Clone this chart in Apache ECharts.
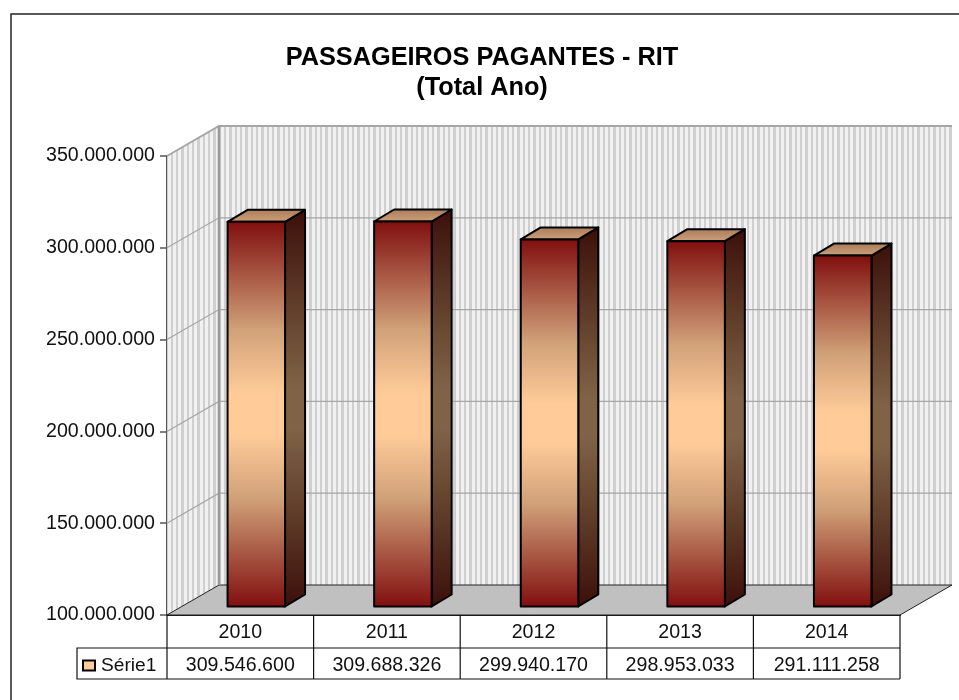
<!DOCTYPE html>
<html>
<head>
<meta charset="utf-8">
<style>
html, body { margin: 0; padding: 0; background: #fff; }
#chart { width: 959px; height: 700px; }
</style>
<script src="https://cdn.jsdelivr.net/npm/echarts@6/dist/echarts.min.js"></script>
</head>
<body>
<div id="chart"></div>
<script>
var categories = ['2010', '2011', '2012', '2013', '2014'];
var serie1 = [309546600, 309688326, 299940170, 298953033, 291111258];
var yTicks = [100000000, 150000000, 200000000, 250000000, 300000000, 350000000];

var fontName = '"Liberation Sans", Arial, sans-serif';
var wallDx = 52, wallDy = -30;   // profundidade das paredes
var barDx = 16, barDy = -8.5;    // deslocamento da barra em relacao ao eixo
var sideDx = 20, sideDy = -12;   // profundidade da barra
var barWidth = 57.5;

function formatDots(value) {
    return String(value).replace(/\B(?=(\d{3})+$)/g, '.');
}

function stripePattern() {
    var c = document.createElement('canvas');
    c.width = 16;
    c.height = 4;
    var ctx = c.getContext('2d');
    ctx.fillStyle = '#f1f1f1';
    ctx.fillRect(0, 0, 16, 4);
    ctx.fillStyle = '#cfcfcf';
    ctx.fillRect(0, 0, 2, 4);
    ctx.fillRect(5, 0, 3, 4);
    ctx.fillRect(11, 0, 2, 4);
    return c;
}
var stripes = { image: stripePattern(), repeat: 'repeat' };

function vGradient(dark, soft, light) {
    return new echarts.graphic.LinearGradient(0, 0, 0, 1, [
        { offset: 0, color: dark },
        { offset: 0.28, color: soft },
        { offset: 0.45, color: light },
        { offset: 0.55, color: light },
        { offset: 0.72, color: soft },
        { offset: 1, color: dark }
    ]);
}

function renderWalls(params, api) {
    var w = api.size([1, 0])[0] * categories.length;
    var lo = yTicks[0], hi = yTicks[yTicks.length - 1];
    var left = api.coord([0, lo])[0] - w / categories.length / 2;
    var yLo = api.coord([0, lo])[1], yHi = api.coord([0, hi])[1];
    var bl = [left, yLo], tl = [left, yHi], br = [left + w, yLo];
    var kids = [];

    kids.push({ type: 'polygon', shape: { points: [tl, [tl[0] + wallDx, tl[1] + wallDy], [bl[0] + wallDx, bl[1] + wallDy], bl] }, style: { fill: stripes } });
    kids.push({ type: 'rect', shape: { x: tl[0] + wallDx, y: tl[1] + wallDy, width: w, height: yLo - yHi }, style: { fill: stripes } });
    kids.push({ type: 'polygon', shape: { points: [bl, [bl[0] + wallDx, bl[1] + wallDy], [br[0] + wallDx, br[1] + wallDy], br] }, style: { fill: '#c0c0c0', stroke: '#222', lineWidth: 1 } });

    for (var i = 1; i < yTicks.length; i++) {
        var y = api.coord([0, yTicks[i]])[1];
        kids.push({
            type: 'polyline',
            shape: { points: [[left, y], [left + wallDx, y + wallDy], [left + wallDx + w, y + wallDy]] },
            style: { fill: null, stroke: '#a6a6a6', lineWidth: i === yTicks.length - 1 ? 2 : 1.2 }
        });
    }
    kids.push({ type: 'line', shape: { x1: tl[0] + wallDx, y1: tl[1] + wallDy, x2: bl[0] + wallDx, y2: bl[1] + wallDy }, style: { stroke: '#999', lineWidth: 2.5 } });
    return { type: 'group', children: kids };
}

function renderBar(params, api) {
    var i = api.value(0);
    var top = api.coord([i, api.value(1)]);
    var base = api.coord([i, yTicks[0]]);
    var x0 = top[0] + barDx - barWidth / 2, x1 = x0 + barWidth;
    var yTop = top[1] + barDy, yBase = base[1] + barDy;
    var border = { stroke: '#000', lineWidth: 2, lineJoin: 'round' };

    return {
        type: 'group',
        children: [{
            type: 'polygon',
            shape: { points: [[x1, yTop], [x1 + sideDx, yTop + sideDy], [x1 + sideDx, yBase + sideDy], [x1, yBase]] },
            style: Object.assign({ fill: vGradient('#3c0f0a', '#66452f', '#806347') }, border)
        }, {
            type: 'polygon',
            shape: { points: [[x0, yTop], [x0 + sideDx, yTop + sideDy], [x1 + sideDx, yTop + sideDy], [x1, yTop]] },
            style: Object.assign({ fill: new echarts.graphic.LinearGradient(0, 0, 0, 1, [
                { offset: 0, color: '#a87a58' },
                { offset: 1, color: '#cfa27c' }
            ]) }, border)
        }, {
            type: 'rect',
            shape: { x: x0, y: yTop, width: barWidth, height: yBase - yTop },
            style: Object.assign({ fill: vGradient('#800e0e', '#d0a078', '#ffcc99') }, border)
        }]
    };
}

function renderTable(params, api) {
    var i = api.value(0);
    var p = api.coord([i, yTicks[0]]);
    var w = api.size([1, 0])[0];
    var x0 = p[0] - w / 2;
    var y0 = p[1], y1 = y0 + 33, y2 = y0 + 64;
    var grid = { stroke: '#111', lineWidth: 1.2 };
    var kids = [
        { type: 'line', shape: { x1: x0, y1: y1, x2: x0 + w, y2: y1 }, style: grid },
        { type: 'line', shape: { x1: x0, y1: y2, x2: x0 + w, y2: y2 }, style: grid },
        { type: 'line', shape: { x1: x0 + w, y1: y0, x2: x0 + w, y2: y2 }, style: grid },
        {
            type: 'text',
            style: {
                x: p[0], y: (y1 + y2) / 2 + 2,
                text: formatDots(api.value(1)),
                align: 'center', verticalAlign: 'middle',
                fill: '#111', font: '19.6px ' + fontName
            }
        }
    ];
    if (i === 0) {
        kids.push({ type: 'line', shape: { x1: x0, y1: y0, x2: x0, y2: y2 }, style: grid });
        kids.push({ type: 'polyline', shape: { points: [[x0, y1], [x0 - 90, y1], [x0 - 90, y2], [x0, y2]] }, style: { fill: null, stroke: '#111', lineWidth: 1.2 } });
    }
    return { type: 'group', children: kids };
}

var chart = echarts.init(document.getElementById('chart'), null, { renderer: 'canvas' });

chart.setOption({
    animation: false,
    backgroundColor: '#fff',
    textStyle: { fontFamily: fontName },
    title: {
        text: 'PASSAGEIROS PAGANTES - RIT\n(Total Ano)',
        left: 477,
        top: 38,
        textAlign: 'center',
        textStyle: { fontSize: 25.3, fontWeight: 'bold', lineHeight: 30, color: '#000', fontFamily: fontName }
    },
    legend: {
        left: 82,
        top: 656,
        padding: 0,
        itemWidth: 12,
        itemHeight: 10,
        itemGap: 0,
        selectedMode: false,
        data: [{ name: 'Série1', icon: 'rect' }],
        textStyle: { fontSize: 19.2, color: '#111', fontFamily: fontName, padding: [1, 0, 0, 1] }
    },
    grid: { left: 167, right: 59, top: 156, bottom: 85 },
    xAxis: {
        type: 'category',
        data: categories,
        axisLine: { show: true, lineStyle: { color: '#111', width: 2 } },
        axisTick: { show: false },
        axisLabel: { margin: 8, fontSize: 19.6, color: '#111', fontFamily: fontName }
    },
    yAxis: {
        type: 'value',
        min: yTicks[0],
        max: yTicks[yTicks.length - 1],
        interval: yTicks[1] - yTicks[0],
        splitLine: { show: false },
        axisLine: { show: true, lineStyle: { color: '#555', width: 2 } },
        axisTick: { show: true, length: 7, lineStyle: { color: '#555', width: 1.5 } },
        axisLabel: { margin: 12, fontSize: 19.6, color: '#111', fontFamily: fontName, padding: [2, 0, 0, 0], formatter: formatDots }
    },
    series: [{
        name: 'paredes',
        type: 'custom',
        silent: true,
        z: 1,
        data: [0],
        renderItem: renderWalls
    }, {
        name: 'Série1',
        type: 'custom',
        z: 3,
        itemStyle: { color: '#ffcc99', borderColor: '#000', borderWidth: 1.5 },
        encode: { x: 0, y: 1 },
        data: serie1.map(function(v, i) { return [i, v]; }),
        renderItem: renderBar
    }, {
        name: 'tabela',
        type: 'custom',
        silent: true,
        z: 4,
        encode: { x: 0 },
        data: serie1.map(function(v, i) { return [i, v]; }),
        renderItem: renderTable
    }],
    graphic: [{
        type: 'polyline',
        silent: true,
        shape: { points: [[11, 700], [11, 14], [959, 14]] },
        style: { fill: null, stroke: '#222', lineWidth: 1.5 }
    }]
});
</script>
</body>
</html>
